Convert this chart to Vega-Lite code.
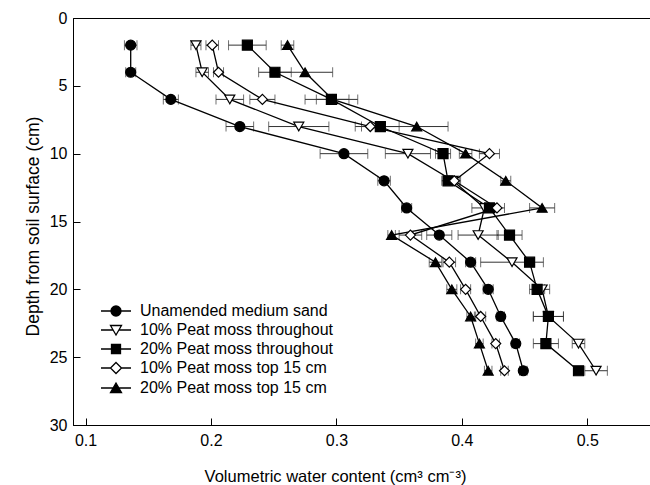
{
  "$schema": "https://vega.github.io/schema/vega-lite/v6.json",
  "width": 577,
  "height": 407,
  "autosize": {"type": "none"},
  "padding": {"left": 73, "top": 18, "right": 0, "bottom": 60},
  "background": "white",
  "config": {
    "font": "Liberation Sans",
    "view": {"stroke": "black", "strokeWidth": 1},
    "axis": {
      "domainColor": "black",
      "tickColor": "black",
      "labelColor": "black",
      "titleColor": "black",
      "grid": false,
      "labelFontSize": 16,
      "titleFontWeight": "normal",
      "labelFont": "Liberation Sans",
      "titleFont": "Liberation Sans"
    }
  },
  "data": {
    "values": [
      {"s": "Unamended medium sand", "d": 2, "v": 0.136, "e": 0.005},
      {"s": "Unamended medium sand", "d": 4, "v": 0.136, "e": 0.004},
      {"s": "Unamended medium sand", "d": 6, "v": 0.168, "e": 0.006},
      {"s": "Unamended medium sand", "d": 8, "v": 0.223, "e": 0.011},
      {"s": "Unamended medium sand", "d": 10, "v": 0.306, "e": 0.019},
      {"s": "Unamended medium sand", "d": 12, "v": 0.338, "e": 0.005},
      {"s": "Unamended medium sand", "d": 14, "v": 0.356, "e": 0.004},
      {"s": "Unamended medium sand", "d": 16, "v": 0.382, "e": 0.010},
      {"s": "Unamended medium sand", "d": 18, "v": 0.407, "e": 0.004},
      {"s": "Unamended medium sand", "d": 20, "v": 0.421, "e": 0.004},
      {"s": "Unamended medium sand", "d": 22, "v": 0.431, "e": 0.003},
      {"s": "Unamended medium sand", "d": 24, "v": 0.443, "e": 0.003},
      {"s": "Unamended medium sand", "d": 26, "v": 0.449, "e": 0.003},
      {"s": "10% Peat moss throughout", "d": 2, "v": 0.188, "e": 0.004},
      {"s": "10% Peat moss throughout", "d": 4, "v": 0.193, "e": 0.005},
      {"s": "10% Peat moss throughout", "d": 6, "v": 0.215, "e": 0.011},
      {"s": "10% Peat moss throughout", "d": 8, "v": 0.270, "e": 0.024},
      {"s": "10% Peat moss throughout", "d": 10, "v": 0.357, "e": 0.018},
      {"s": "10% Peat moss throughout", "d": 12, "v": 0.393, "e": 0.006},
      {"s": "10% Peat moss throughout", "d": 14, "v": 0.418, "e": 0.010},
      {"s": "10% Peat moss throughout", "d": 16, "v": 0.413, "e": 0.016},
      {"s": "10% Peat moss throughout", "d": 18, "v": 0.440, "e": 0.025},
      {"s": "10% Peat moss throughout", "d": 20, "v": 0.464, "e": 0.006},
      {"s": "10% Peat moss throughout", "d": 22, "v": 0.469, "e": 0.012},
      {"s": "10% Peat moss throughout", "d": 24, "v": 0.493, "e": 0.005},
      {"s": "10% Peat moss throughout", "d": 26, "v": 0.507, "e": 0.009},
      {"s": "20% Peat moss throughout", "d": 2, "v": 0.229, "e": 0.015},
      {"s": "20% Peat moss throughout", "d": 4, "v": 0.251, "e": 0.013},
      {"s": "20% Peat moss throughout", "d": 6, "v": 0.296, "e": 0.021},
      {"s": "20% Peat moss throughout", "d": 8, "v": 0.335, "e": 0.015},
      {"s": "20% Peat moss throughout", "d": 10, "v": 0.385, "e": 0.006},
      {"s": "20% Peat moss throughout", "d": 12, "v": 0.389, "e": 0.005},
      {"s": "20% Peat moss throughout", "d": 14, "v": 0.422, "e": 0.005},
      {"s": "20% Peat moss throughout", "d": 16, "v": 0.438, "e": 0.010},
      {"s": "20% Peat moss throughout", "d": 18, "v": 0.454, "e": 0.004},
      {"s": "20% Peat moss throughout", "d": 20, "v": 0.460, "e": 0.006},
      {"s": "20% Peat moss throughout", "d": 22, "v": 0.469, "e": 0.012},
      {"s": "20% Peat moss throughout", "d": 24, "v": 0.467, "e": 0.010},
      {"s": "20% Peat moss throughout", "d": 26, "v": 0.493, "e": 0.004},
      {"s": "10% Peat moss top 15 cm", "d": 2, "v": 0.201, "e": 0.005},
      {"s": "10% Peat moss top 15 cm", "d": 4, "v": 0.206, "e": 0.004},
      {"s": "10% Peat moss top 15 cm", "d": 6, "v": 0.241, "e": 0.010},
      {"s": "10% Peat moss top 15 cm", "d": 8, "v": 0.327, "e": 0.012},
      {"s": "10% Peat moss top 15 cm", "d": 10, "v": 0.422, "e": 0.008},
      {"s": "10% Peat moss top 15 cm", "d": 12, "v": 0.394, "e": 0.004},
      {"s": "10% Peat moss top 15 cm", "d": 14, "v": 0.428, "e": 0.006},
      {"s": "10% Peat moss top 15 cm", "d": 16, "v": 0.359, "e": 0.009},
      {"s": "10% Peat moss top 15 cm", "d": 18, "v": 0.390, "e": 0.005},
      {"s": "10% Peat moss top 15 cm", "d": 20, "v": 0.403, "e": 0.004},
      {"s": "10% Peat moss top 15 cm", "d": 22, "v": 0.415, "e": 0.004},
      {"s": "10% Peat moss top 15 cm", "d": 24, "v": 0.427, "e": 0.003},
      {"s": "10% Peat moss top 15 cm", "d": 26, "v": 0.434, "e": 0.003},
      {"s": "20% Peat moss top 15 cm", "d": 2, "v": 0.261, "e": 0.005},
      {"s": "20% Peat moss top 15 cm", "d": 4, "v": 0.275, "e": 0.022},
      {"s": "20% Peat moss top 15 cm", "d": 6, "v": 0.297, "e": 0.013},
      {"s": "20% Peat moss top 15 cm", "d": 8, "v": 0.364, "e": 0.025},
      {"s": "20% Peat moss top 15 cm", "d": 10, "v": 0.403, "e": 0.005},
      {"s": "20% Peat moss top 15 cm", "d": 12, "v": 0.435, "e": 0.004},
      {"s": "20% Peat moss top 15 cm", "d": 14, "v": 0.464, "e": 0.010},
      {"s": "20% Peat moss top 15 cm", "d": 16, "v": 0.344, "e": 0.003},
      {"s": "20% Peat moss top 15 cm", "d": 18, "v": 0.379, "e": 0.005},
      {"s": "20% Peat moss top 15 cm", "d": 20, "v": 0.392, "e": 0.004},
      {"s": "20% Peat moss top 15 cm", "d": 22, "v": 0.407, "e": 0.003},
      {"s": "20% Peat moss top 15 cm", "d": 24, "v": 0.414, "e": 0.003},
      {"s": "20% Peat moss top 15 cm", "d": 26, "v": 0.421, "e": 0.003}
    ]
  },
  "layer": [
    {
      "mark": {
        "type": "errorbar",
        "ticks": {"size": 10, "thickness": 1, "color": "#333"},
        "rule": {"strokeWidth": 1, "color": "#333"}
      },
      "encoding": {
        "x": {
          "field": "v",
          "type": "quantitative",
          "scale": {"domain": [0.09, 0.55], "nice": false, "zero": false},
          "axis": {
            "values": [0.1, 0.2, 0.3, 0.4, 0.5],
            "format": ".1f",
            "tickSize": -7,
            "labelPadding": 14,
            "title": "Volumetric water content (cm³ cm⁻³)",
            "titleFontSize": 16.5,
            "titleX": 262,
            "titleY": 51,
            "titleAlign": "center",
            "titleBaseline": "middle"
          }
        },
        "xError": {"field": "e"},
        "y": {
          "field": "d",
          "type": "quantitative",
          "scale": {"domain": [0, 30], "reverse": true, "nice": false},
          "axis": {
            "values": [0, 5, 10, 15, 20, 25, 30],
            "tickSize": -7,
            "labelPadding": 13,
            "title": "Depth from soil surface (cm)",
            "titleFontSize": 17.5,
            "titleX": -40,
            "titleY": 208,
            "titleAngle": -90,
            "titleAlign": "center",
            "titleBaseline": "middle"
          }
        },
        "detail": {"field": "s"}
      }
    },
    {
      "mark": {"type": "line", "color": "black", "strokeWidth": 1.3},
      "encoding": {
        "x": {"field": "v", "type": "quantitative"},
        "y": {"field": "d", "type": "quantitative"},
        "detail": {"field": "s"},
        "order": {"field": "d", "type": "quantitative"}
      }
    },
    {
      "mark": {"type": "point", "size": 100, "strokeWidth": 1.2, "opacity": 1, "stroke": "black"},
      "encoding": {
        "x": {"field": "v", "type": "quantitative"},
        "y": {"field": "d", "type": "quantitative"},
        "shape": {
          "field": "s",
          "type": "nominal",
          "scale": {
            "domain": ["Unamended medium sand", "10% Peat moss throughout", "20% Peat moss throughout", "10% Peat moss top 15 cm", "20% Peat moss top 15 cm"],
            "range": ["circle", "triangle-down", "square", "diamond", "triangle-up"]
          },
          "legend": null
        },
        "fill": {
          "field": "s",
          "type": "nominal",
          "scale": {
            "domain": ["Unamended medium sand", "10% Peat moss throughout", "20% Peat moss throughout", "10% Peat moss top 15 cm", "20% Peat moss top 15 cm"],
            "range": ["black", "white", "black", "white", "black"]
          },
          "legend": null
        }
      }
    },
    {
      "data": {"values": []},
      "mark": {"type": "point", "opacity": 1, "filled": true, "stroke": "black", "strokeWidth": 1.3},
      "encoding": {
        "shape": {
          "field": "s",
          "type": "nominal",
          "scale": {
            "domain": ["Unamended medium sand", "10% Peat moss throughout", "20% Peat moss throughout", "10% Peat moss top 15 cm", "20% Peat moss top 15 cm"],
            "range": [
              "M-1.5,0H1.5M-0.5,0A0.5,0.5,0,1,0,0.5,0A0.5,0.5,0,1,0,-0.5,0Z",
              "M-1.5,0H-0.27M0.27,0H1.5M-0.55,-0.45L0.55,-0.45L0,0.5Z",
              "M-1.5,0H1.5M-0.45,-0.45H0.45V0.45H-0.45Z",
              "M-1.5,0H-0.55M0.55,0H1.5M0,-0.55L0.55,0L0,0.55L-0.55,0Z",
              "M-1.5,0H1.5M0,-0.5L0.55,0.45L-0.55,0.45Z"
            ]
          },
          "legend": {
            "orient": "none",
            "legendX": 32,
            "legendY": 282,
            "title": null,
            "padding": 0,
            "offset": 0,
            "symbolSize": 400,
            "symbolStrokeColor": "black",
            "symbolStrokeWidth": 1.3,
            "symbolOpacity": 1,
            "labelFontSize": 16,
            "labelFont": "Liberation Sans",
            "labelColor": "black",
            "labelOffset": 13,
            "rowPadding": 0,
            "labelLimit": 400,
            "encode": {
              "symbols": {
                "update": {
                  "stroke": {"value": "black"},
                  "strokeWidth": {"value": 1.3},
                  "strokeOpacity": {"value": 1}
                }
              }
            }
          }
        },
        "fill": {
          "field": "s",
          "type": "nominal",
          "scale": {
            "domain": ["Unamended medium sand", "10% Peat moss throughout", "20% Peat moss throughout", "10% Peat moss top 15 cm", "20% Peat moss top 15 cm"],
            "range": ["black", "white", "black", "white", "black"]
          },
          "legend": {
            "orient": "none",
            "legendX": 32,
            "legendY": 282,
            "title": null,
            "padding": 0,
            "offset": 0,
            "symbolSize": 400,
            "symbolStrokeColor": "black",
            "symbolStrokeWidth": 1.3,
            "symbolOpacity": 1,
            "labelFontSize": 16,
            "labelFont": "Liberation Sans",
            "labelColor": "black",
            "labelOffset": 13,
            "rowPadding": 0,
            "labelLimit": 400,
            "encode": {
              "symbols": {
                "update": {
                  "stroke": {"value": "black"},
                  "strokeWidth": {"value": 1.3},
                  "strokeOpacity": {"value": 1}
                }
              }
            }
          }
        }
      }
    }
  ],
  "resolve": {"scale": {"shape": "independent", "fill": "independent"}}
}
